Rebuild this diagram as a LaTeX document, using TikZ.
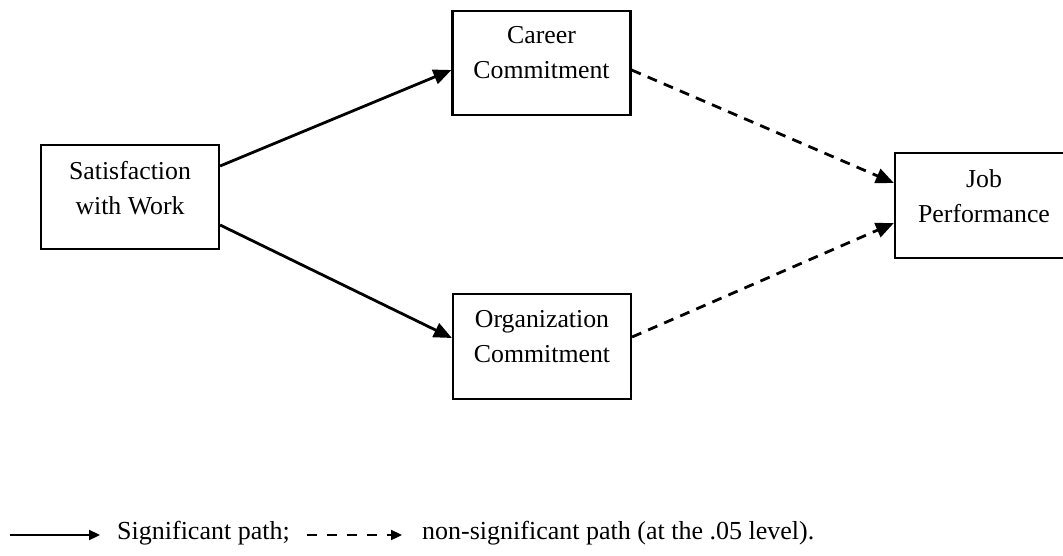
\documentclass[tikz,border=0pt]{standalone}
\usepackage{fontspec}
\setmainfont{Liberation Serif}
\usetikzlibrary{arrows.meta}

\tikzset{
  varbox/.style={draw, line width=2.2pt, minimum width=178pt, minimum height=104.5pt, inner sep=0pt},
  boxtext/.style={anchor=north, align=center, inner sep=0pt,
    font=\fontsize{25.8}{35}\selectfont},
  legtext/.style={anchor=base west, inner sep=0pt,
    font=\fontsize{26}{35}\selectfont},
  sigpath/.style={line width=2.8pt, -{Triangle[length=18pt,width=15pt]}},
  nspath/.style={line width=2.8pt, dash pattern=on 10pt off 7.5pt,
    -{Triangle[length=18pt,width=15pt]}},
  sigkey/.style={line width=2.3pt, -{Triangle[length=11pt,width=10pt]}},
  nskey/.style={line width=2.3pt, dash pattern=on 10pt off 10pt,
    -{Triangle[length=11pt,width=10pt]}},
}

\begin{document}
\begin{tikzpicture}[x=1pt, y=-1pt]
  \useasboundingbox (0,0) rectangle (1063,556);
  \clip (0,0) rectangle (1063,556);

  % variables
  \node[varbox] (sat)    at (130,197)   {};
  \node[varbox] (career) at (541.5,63)  {};
  \node[varbox] (org)    at (542,346.5) {};
  \node[varbox] (job)    at (984,205.5) {};

  \node[boxtext] (sat-t)    at ([yshift=-17pt]sat.north)    {Satisfaction\\with Work};
  \node[boxtext] (career-t) at ([yshift=-17pt]career.north) {Career\\Commitment};
  \node[boxtext] (org-t)    at ([yshift=-17pt]org.north)    {Organization\\Commitment};
  \node[boxtext] (job-t)    at ([yshift=-17pt]job.north)    {Job\\Performance};

  % paths
  \draw[sigpath] ([yshift=31pt]sat.east)  -- ([yshift=-7pt]career.west);
  \draw[sigpath] ([yshift=-28pt]sat.east) -- ([yshift=8.5pt]org.west);
  \draw[nspath]  ([yshift=-7pt]career.east) -- ([yshift=22.5pt]job.west);
  \draw[nspath]  ([yshift=9.5pt]org.east)   -- ([yshift=-17.5pt]job.west);

  % key
  \coordinate (k1a) at (10,535);
  \coordinate (k1b) at (100,535);
  \coordinate (k2a) at (307,535);
  \coordinate (k2b) at (402,535);
  \draw[sigkey] (k1a) -- (k1b);
  \node[legtext] (k1t) at (117,539) {Significant path;};
  \draw[nskey] (k2a) -- (k2b);
  \node[legtext] (k2t) at (422,539) {non-significant path (at the .05 level).};
\end{tikzpicture}
\end{document}
